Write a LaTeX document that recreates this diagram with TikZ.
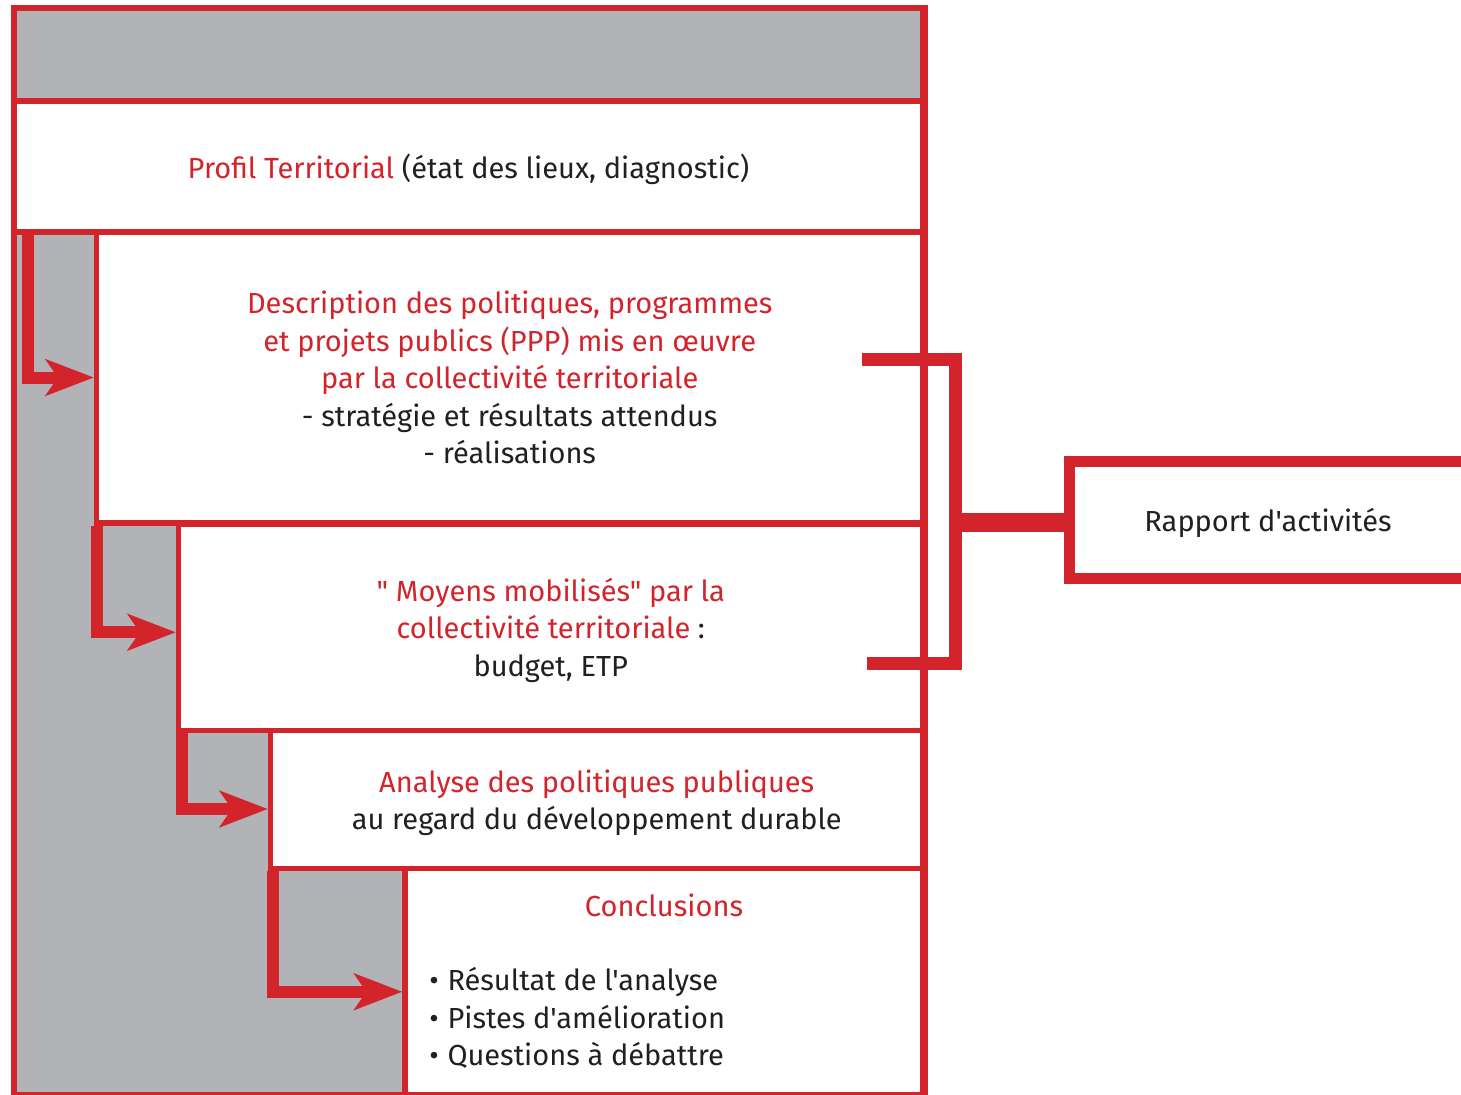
\documentclass[tikz,border=0pt]{standalone}
\usepackage{fontspec}
\newfontfamily\diafont{Fira Sans}
\usetikzlibrary{arrows.meta, positioning, calc}
\definecolor{framered}{RGB}{211,36,44}
\definecolor{panelgray}{RGB}{178,179,183}
\definecolor{inkblack}{RGB}{35,31,32}
\newcommand{\rd}[1]{\textcolor{framered}{#1}}

\begin{document}
\begin{tikzpicture}[x=0.5pt, y=-0.5pt,
    every node/.style={font=\diafont\fontsize{14.5}{18.75}\selectfont, text=inkblack, inner sep=0pt},
    panel/.style={draw=framered, line width=2.6pt, fill=white, align=center, text depth=0pt},
    stepper/.style={draw=framered, line width=6pt, -{Stealth[length=24pt, width=18pt, inset=6pt]}},
    bracket/.style={draw=framered, line width=6.5pt},
    stem/.style={draw=framered, line width=9.5pt},
    rapframe/.style={draw=framered, line width=5.5pt}]
  \useasboundingbox (0,0) rectangle (1461,1094);
  % grey sheet and stacked panels
  \node[panel, fill=panelgray, minimum width=454.5pt, minimum height=543.5pt] (sheet) at (468.5,551.5) {};
  \node[panel, minimum width=454.5pt, minimum height=65.5pt] (profil) at (468.5,166.5)
    {\rd{Profil Territorial} (état des lieux, diagnostic)};
  \node[panel, minimum width=413.25pt, minimum height=145.5pt] (desc) at (509.75,377.5)
    {\rd{Description des politiques, programmes}\\
     \rd{et projets publics (PPP) mis en œuvre}\\
     \rd{par la collectivité territoriale}\\
     - stratégie et résultats attendus\\
     - réalisations};
  \node[panel, minimum width=372.25pt, minimum height=103.25pt] (moyens) at (550.75,627.25)
    {\rd{" Moyens mobilisés" par la}\\
     \rd{collectivité territoriale} :\\
     budget, ETP};
  \node[panel, minimum width=326.25pt, minimum height=69pt] (analyse) at (596.75,799.5)
    {\rd{Analyse des politiques publiques}\\
     au regard du développement durable};
  \node[panel, minimum width=259pt, minimum height=113.25pt] (concl) at (664,981.75) {};
  \node (conclT) at (664,905) {\rd{Conclusions}};
  \node[anchor=west, align=left] (bullets) at (429,1018)
    {•\hspace{0.3em}Résultat de l'analyse\\ •\hspace{0.3em}Pistes d'amélioration\\ •\hspace{0.3em}Questions à débattre};
  \draw[framered, line width=2.6pt] (sheet.north east) -- (sheet.south east);
  % step arrows
  \draw[stepper] ($(profil.south west)+(16.5,0)$) |- (desc.west);
  \draw[stepper] ($(desc.south west)+(3.5,0)$) |- ($(moyens.west)+(0,5)$);
  \draw[stepper] ($(moyens.south west)+(6.5,0)$) |- ($(analyse.west)+(0,9.5)$);
  \draw[stepper] ($(analyse.south west)+(5.5,0)$) |- ($(concl.west)+(0,10)$);
  % bracket to the activity report
  \coordinate (brtop) at (862,359);
  \coordinate (brbot) at (867,663.5);
  \coordinate (brmid) at (955.5,522);
  \coordinate (rapin) at (1069,522);
  \draw[bracket] (brtop) -| (brmid) |- (brbot);
  \draw[stem] (brmid) -- (rapin);
  \draw[rapframe] (1480,461.5) -| (rapin) |- (1480,578.5);
  \node (rapport) at (1268,523) {Rapport d'activités};
\end{tikzpicture}
\end{document}
